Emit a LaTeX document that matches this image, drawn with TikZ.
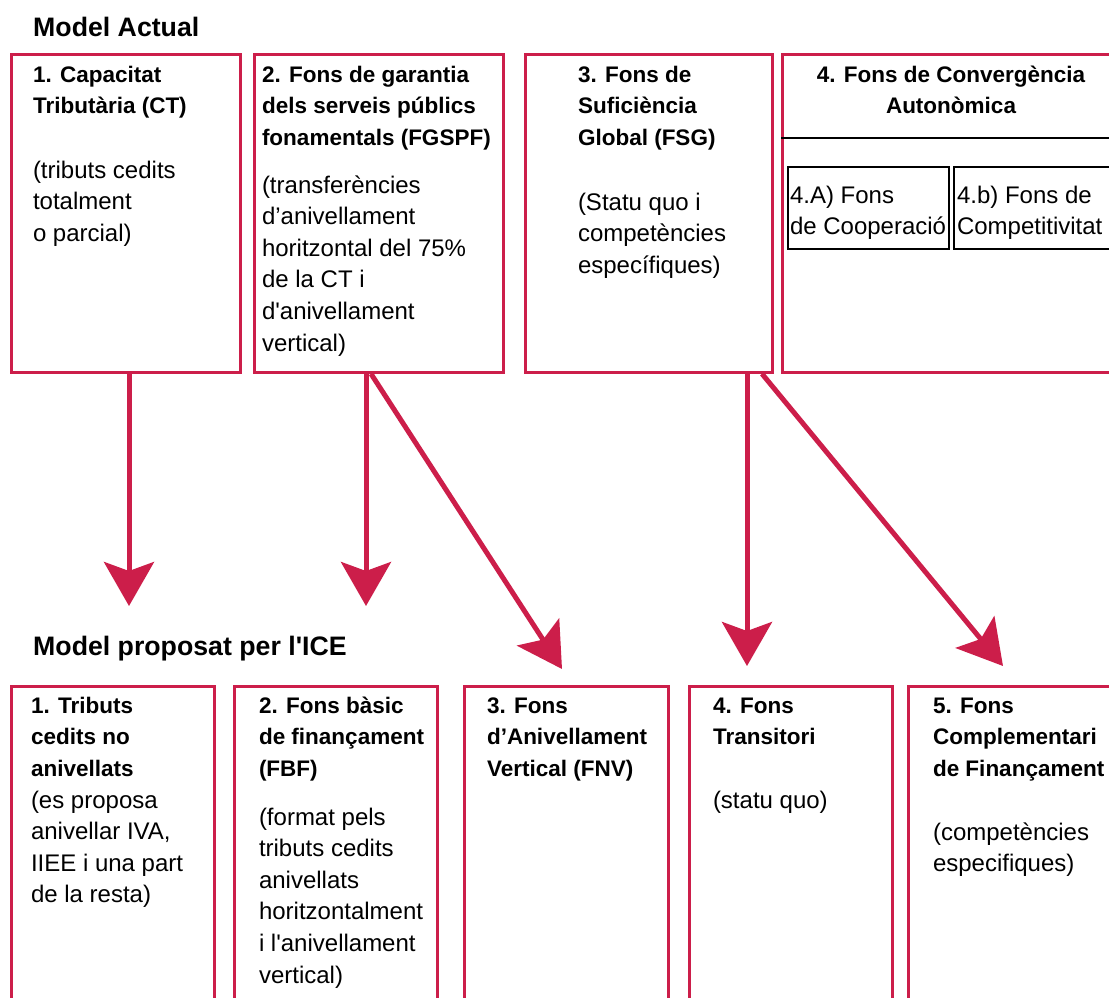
\documentclass[tikz,border=0pt]{standalone}
\usepackage{fontspec}
\setmainfont{Liberation Sans}
\usetikzlibrary{arrows.meta}
\definecolor{crim}{RGB}{204,30,74}
\newcommand\myhd{\bfseries\fontsize{22.5}{31.6}\selectfont}
\newcommand\mybd{\fontsize{24}{31.6}\selectfont}
\newcommand\myttl{\bfseries\fontsize{26.7}{32}\selectfont}
\newcommand\sq{\textquotesingle}
\begin{document}
\begin{tikzpicture}[x=1pt,y=-1pt,
 box/.style={draw=crim, line width=2.8pt, anchor=north west, inner sep=0pt},
 subbox/.style={draw=black, line width=2.4pt, anchor=north west, inner sep=0pt},
 hd/.style={anchor=north west, inner sep=0pt, outer sep=0pt, align=left, yshift=22.12pt, font=\myhd},
 bd/.style={anchor=north west, inner sep=0pt, outer sep=0pt, align=left, yshift=22.12pt, font=\mybd},
 ttl/.style={anchor=base west, inner sep=0pt, font=\myttl},
 arr/.style={draw=crim, line width=5pt, -{Stealth[length=44pt,width=50pt,inset=9pt]}},
]
\useasboundingbox (0,0) rectangle (1109,998);

% titles
\node[ttl] (t1) at (33,37) {Model Actual};
\node[ttl] (t2) at (33,655) {Model proposat per l\sq ICE};

% top boxes
\node[box, minimum width=229pt, minimum height=318pt] (B1) at (10,53) {};
\node[box, minimum width=249pt, minimum height=318pt] (B2) at (253,53) {};
\node[box, minimum width=247pt, minimum height=318pt] (B3) at (524,53) {};
\node[box, minimum width=345pt, minimum height=318pt] (B4) at (781,53) {};
\coordinate (dv) at (0,138);
\draw[black, line width=2.2pt] (B4.west |- dv) -- (B4.east |- dv);
\node[subbox, minimum width=161pt, minimum height=82pt] (S1) at (787,166) {};
\node[subbox, minimum width=172pt, minimum height=82pt] (S2) at (953,166) {};

% bottom boxes
\node[box, minimum width=203pt, minimum height=330pt] (C1) at (10,685) {};
\node[box, minimum width=203pt, minimum height=330pt] (C2) at (233,685) {};
\node[box, minimum width=204pt, minimum height=330pt] (C3) at (463,685) {};
\node[box, minimum width=203pt, minimum height=330pt] (C4) at (688,685) {};
\node[box, minimum width=215pt, minimum height=330pt] (C5) at (907,685) {};

% top texts
\node[hd] (h1) at (33,82) {\strut 1. Capacitat\\Tributària (CT)};
\node[bd] (b1) at (33,178) {\strut (tributs cedits\\totalment\\o parcial)};
\node[hd] (h2) at (262,82) {\strut 2. Fons de garantia\\dels serveis públics\\fonamentals (FGSPF)};
\node[bd] (b2) at (262,193) {\strut (transferències\\d’anivellament\\horitzontal del 75\%\\de la CT i\\d\sq anivellament\\vertical)};
\node[hd] (h3) at (578,82) {\strut 3. Fons de\\Suficiència\\Global (FSG)};
\node[bd] (b3) at (578,210) {\strut (Statu quo i\\competències\\específiques)};
\node[hd, anchor=north, align=center] (h4) at (951,82) {\strut 4. Fons de Convergència\\Autonòmica};
\node[bd] (s1t) at (790,203) {\strut 4.A) Fons\\de Cooperació};
\node[bd] (s2t) at (957,203) {\strut 4.b) Fons de\\Competitivitat};

% bottom texts
\node[hd] (k1) at (31,713) {\strut 1. Tributs\\cedits no\\anivellats};
\node[bd] (m1) at (31,808) {\strut (es proposa\\anivellar IVA,\\IIEE i una part\\de la resta)};
\node[hd] (k2) at (259,713) {\strut 2. Fons bàsic\\de finançament\\(FBF)};
\node[bd] (m2) at (259,825) {\strut (format pels\\tributs cedits\\anivellats\\horitzontalment\\i l\sq anivellament\\vertical)};
\node[hd] (k3) at (487,713) {\strut 3. Fons\\d’Anivellament\\Vertical (FNV)};
\node[hd] (k4) at (713,713) {\strut 4. Fons\\Transitori};
\node[bd] (m4) at (713,808) {\strut (statu quo)};
\node[hd] (k5) at (933,713) {\strut 5. Fons\\Complementari\\de Finançament};
\node[bd] (m5) at (933,840) {\strut (competències\\especifiques)};

% arrows
\coordinate (e1) at (129,606);
\coordinate (e2) at (366,606);
\coordinate (s3) at (371,0);
\coordinate (e3) at (562,669);
\coordinate (e4) at (747,666);
\coordinate (s5) at (762,0);
\coordinate (e5) at (1003,666);
\draw[arr] (B1.south -| e1) -- (e1);
\draw[arr] (B2.south -| e2) -- (e2);
\draw[arr] (B2.south -| s3) -- (e3);
\draw[arr] (B3.south -| e4) -- (e4);
\draw[arr] (B3.south -| s5) -- (e5);
\end{tikzpicture}
\end{document}
